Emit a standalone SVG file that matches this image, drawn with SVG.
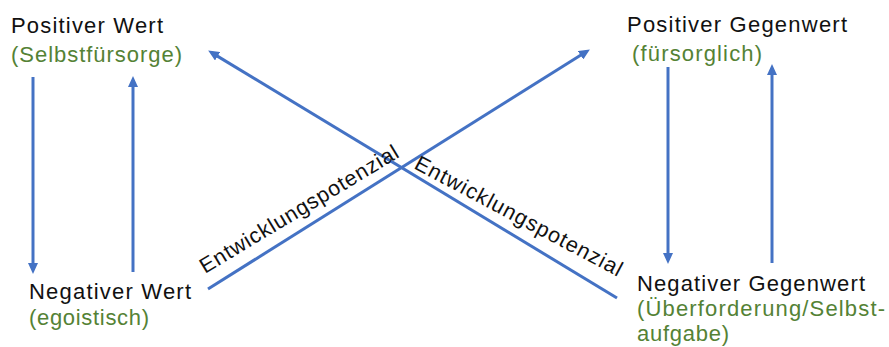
<svg xmlns="http://www.w3.org/2000/svg" width="889" height="347" viewBox="0 0 889 347">
<defs>
<marker id="ah" markerUnits="userSpaceOnUse" markerWidth="11" markerHeight="10" refX="7" refY="5" orient="auto">
<path d="M0,0 L11,5 L0,10 z" fill="#4472C4"/>
</marker>
<style>
.lbl{font-family:"Liberation Sans",Arial,sans-serif;font-size:22px;fill:#111}
.sub{font-family:"Liberation Sans",Arial,sans-serif;font-size:22px;fill:#548235}
.pot{font-family:"Liberation Sans",Arial,sans-serif;font-size:21.5px;fill:#111}
.c{stroke:#4472C4;stroke-width:3;fill:none;marker-end:url(#ah)}
</style>
</defs>
<rect width="889" height="347" fill="#fff"/>
<g id="connectors">
<line class="c" x1="33" y1="77" x2="33" y2="270"/>
<line class="c" x1="133" y1="272" x2="133" y2="80"/>
<line class="c" x1="668" y1="67" x2="668" y2="260"/>
<line class="c" x1="772" y1="263" x2="772" y2="68"/>
<line class="c" x1="208" y1="289" x2="586.5" y2="51.6"/>
<line class="c" x1="617" y1="298" x2="211.6" y2="52.6"/>
<text class="pot" transform="translate(205,274) rotate(-31)" textLength="228">Entwicklungspotenzial</text>
<text class="pot" transform="translate(413,168) rotate(28)" textLength="232">Entwicklungspotenzial</text>
</g>
<g id="pos-wert">
<text class="lbl" x="11" y="33" textLength="152">Positiver Wert</text>
<text class="sub" x="11" y="62" textLength="171">(Selbstfürsorge)</text>
</g>
<g id="pos-gegenwert">
<text class="lbl" x="627" y="32" textLength="220">Positiver Gegenwert</text>
<text class="sub" x="632" y="61" textLength="130">(fürsorglich)</text>
</g>
<g id="neg-wert">
<text class="lbl" x="29" y="299" textLength="162">Negativer Wert</text>
<text class="sub" x="29" y="325" textLength="120">(egoistisch)</text>
</g>
<g id="neg-gegenwert">
<text class="lbl" x="637" y="291" textLength="228">Negativer Gegenwert</text>
<text class="sub" x="637" y="316" textLength="248">(Überforderung/Selbst-</text>
<text class="sub" x="637" y="341" textLength="92">aufgabe)</text>
</g>
</svg>
